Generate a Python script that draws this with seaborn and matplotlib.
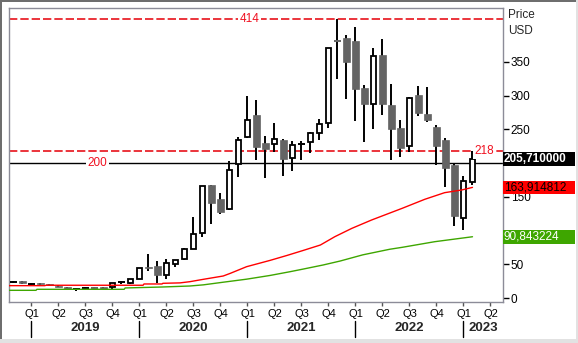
import numpy as np
import pandas as pd
import matplotlib
matplotlib.use("Agg")
import matplotlib.pyplot as plt
import matplotlib.transforms as mtransforms
from matplotlib.patches import Rectangle
import seaborn as sns

# ---- monthly OHLC, Nov 2018 .. Feb 2023 ----
months = pd.period_range("2018-11", "2023-02", freq="M")
open_ = [23.5, 25.0, 21.5, 22.5, 20.5, 18.5, 16.0, 13.5, 15.0, 15.4, 16.0, 16.5, 23.0, 22.0,
         29.0, 45.5, 47.5, 34.2, 50.0, 57.5, 72.5, 96.0, 167.5, 146.0, 131.5, 198.6,
         239.0, 271.3, 229.7, 228.4, 234.0, 208.0, 227.5, 231.7, 244.0, 258.8,
         381.5, 385.2, 380.7, 311.1, 287.9, 360.0, 286.1, 252.0, 225.7, 300.7,
         272.6, 253.8, 234.0, 197.1, 118.2, 172.4]
high = [25.0, 25.5, 23.0, 23.0, 21.0, 19.5, 17.0, 15.0, 17.0, 16.0, 17.0, 23.0, 26.0, 29.0,
        44.5, 66.0, 54.5, 57.9, 56.0, 73.5, 120.0, 166.0, 168.0, 155.6, 203.0, 238.6,
        299.3, 293.4, 240.0, 259.3, 236.0, 232.6, 232.6, 246.0, 265.7, 370.0,
        414.0, 389.2, 401.9, 315.6, 369.9, 383.2, 317.0, 263.7, 298.0, 314.0,
        312.5, 256.3, 237.4, 198.5, 181.3, 218.0]
low = [22.5, 21.5, 19.0, 20.0, 18.5, 16.0, 13.0, 11.0, 13.5, 13.5, 13.0, 14.0, 21.0, 21.5,
       28.5, 40.6, 22.8, 28.7, 46.0, 57.0, 72.0, 91.0, 109.0, 125.0, 130.0, 180.0,
       237.5, 205.0, 178.0, 216.3, 181.0, 188.7, 205.0, 215.3, 234.6, 252.4,
       324.4, 294.4, 262.7, 231.6, 250.9, 271.6, 205.0, 208.3, 216.3, 269.6,
       260.7, 197.1, 164.9, 107.0, 101.3, 167.5]
close = [23.8, 22.0, 21.5, 20.5, 19.0, 16.5, 13.5, 13.6, 15.4, 14.6, 13.5, 22.4, 23.4, 28.3,
         44.0, 44.5, 34.0, 51.5, 55.7, 73.0, 94.5, 165.5, 141.3, 128.0, 189.2, 233.7,
         263.3, 224.3, 221.3, 235.4, 205.6, 226.2, 227.7, 244.0, 257.3, 369.9,
         380.7, 350.1, 309.6, 287.9, 358.5, 287.9, 250.9, 222.7, 296.3, 274.0,
         263.7, 225.7, 193.1, 122.3, 173.0, 205.71]

# ---- moving averages (position in months since Jan 2019) ----
ma_red_month = [-2.5, 1.5, 1.6, 12.4, 12.5, 14.5, 14.6, 16.5, 17.6, 19.1, 21.3, 22.1, 23.9,
                26.5, 28.4, 30.2, 32.1, 33.7, 35.6, 37.8, 41.2, 43.7, 45.9, 47.8, 49.0]
ma_red = [18.4, 18.4, 19.0, 19.0, 20.9, 20.9, 21.9, 22.5, 24.3, 27.8, 32.7, 36.7, 46.5,
          55.8, 63.2, 70.6, 78.6, 90.9, 103.3, 115.7, 133.0, 146.3, 156.1, 160.1, 163.914812]
ma_green_month = [-2.5, 0.5, 0.6, 10.3, 10.4, 14.5, 17.6, 19.1, 21.3, 23.9, 26.5, 28.7,
                  30.2, 32.4, 34.3, 36.8, 39.8, 41.2, 44.8, 49.0]
ma_green = [11.5, 11.5, 13.0, 13.0, 15.0, 16.4, 17.9, 19.6, 23.5, 28.0, 33.5, 39.0,
            43.0, 49.0, 54.9, 64.0, 72.3, 75.2, 83.5, 90.843224]

# ---- reference levels and labels ----
level_high = 414
level_mid = 218
level_round = 200
quarter_labels = ["Q1", "Q2", "Q3", "Q4"]
years = [2019, 2020, 2021, 2022, 2023]
price_ticks = [0, 50, 100, 150, 200, 250, 300, 350]
# labels at 100 and 200 sit under the value boxes
price_tick_labels = ["0", "50", "", "150", "", "250", "300", "350"]

RED = "#ff0000"
GREEN = "#3ea600"
BEAR = "#646464"
FRAME = "#8c8c98"

sns.set_style("white")
plt.rcParams["font.family"] = ["Liberation Sans", "DejaVu Sans"]

W, H = 578, 343
fig = plt.figure(figsize=(W / 100, H / 100), dpi=100)
fig.patch.set_facecolor("white")
ax = fig.add_axes([9 / W, 41 / H, 494 / W, 294 / H])
ax.set_facecolor("white")
ax.set_xlim(-2.5, 52.39)
ax.set_ylim(-5.8, 429.6)

pos = np.array([(m.year - 2019) * 12 + m.month - 1 for m in months])
o = np.array(open_); h = np.array(high); l = np.array(low); c = np.array(close)

# wicks
ax.vlines(pos, l, h, color="black", lw=1.4, zorder=2)
body_w = 0.68
for x, op, cl in zip(pos, o, c):
    if abs(cl - op) < 1.0:
        col = BEAR if cl < op else "black"
        ax.hlines(cl, x - body_w / 2, x + body_w / 2, color=col, lw=1.4, zorder=3)
    elif cl > op:
        ax.bar(x, cl - op, bottom=op, width=body_w - 0.1, facecolor="white",
               edgecolor="black", lw=1.3, zorder=3)
    else:
        ax.bar(x, op - cl, bottom=cl, width=body_w, facecolor=BEAR,
               edgecolor=BEAR, lw=0.5, zorder=3)

# moving averages
sns.lineplot(x=ma_red_month, y=ma_red, ax=ax, color=RED, lw=1.0, sort=False,
             estimator=None, legend=False, zorder=4)
sns.lineplot(x=ma_green_month, y=ma_green, ax=ax, color=GREEN, lw=1.0, sort=False,
             estimator=None, legend=False, zorder=4)

# horizontal levels
dash = (0, (5.0, 1.8))
ax.axhline(level_high, color="#e8121a", lw=1.2, ls=dash, zorder=1)
ax.axhline(level_mid, color="#e8121a", lw=1.2, ls=dash, zorder=1)
ax.axhline(level_round, color="black", lw=1.0, zorder=1)
lab_kw = dict(color="#f01020", fontsize=8.5, ha="center", va="center", zorder=5,
              bbox=dict(facecolor="white", edgecolor="none", pad=1.2))
ax.text(24.2, level_high, str(level_high), **lab_kw)
ax.text(7.36, level_round, str(level_round), **lab_kw)
ax.text(50.3, level_mid, str(level_mid), **lab_kw)

# frame
for s in ax.spines.values():
    s.set_color(FRAME)
    s.set_linewidth(1.0)

# right price axis
ax.yaxis.tick_right()
ax.set_yticks(price_ticks)
ax.set_yticklabels(price_tick_labels)
ax.tick_params(axis="y", which="both", right=True, left=False, length=4, width=1,
               color="black", labelsize=8.5, pad=1.5, labelcolor="black")

# quarter ticks
qpos = np.arange(0, 52, 3)
ax.set_xticks(qpos)
ax.set_xticklabels([quarter_labels[(int(q) // 3) % 4] for q in qpos])
ax.tick_params(axis="x", bottom=True, length=3, width=1, color="#555555",
               labelsize=8, pad=2, labelcolor="black")

# year labels and separators
xtr = ax.get_xaxis_transform()
x_right = ax.get_xlim()[1]
for y in years:
    start = (y - 2019) * 12
    end = min(start + 12, x_right)
    ax.text((start + end) / 2, -0.088, str(y), transform=xtr, ha="center", va="center",
            fontsize=9.5, fontweight="bold", clip_on=False)
    ax.plot([start, start], [-0.066, -0.118], transform=xtr, color="black", lw=1.0,
            clip_on=False)

# value boxes on the price scale
btr = mtransforms.blended_transform_factory(fig.transFigure, ax.transData)
box_h = 13.7 / 0.6753
boxes = [(close[-1], "black", "white", "bold"),
         (ma_red[-1], RED, "black", "normal"),
         (ma_green[-1], GREEN, "white", "normal")]
for val, bg, fg, wt in boxes:
    fig.add_artist(Rectangle((503 / W, val - box_h / 2), 72 / W, box_h, transform=btr,
                             facecolor=bg, edgecolor="none", zorder=10))
    fig.text(504 / W, val, f"{val:.6f}".replace(".", ","), transform=btr, color=fg,
             fontsize=8.5, fontweight=wt, va="center", ha="left", zorder=11)

fig.text(508 / W, 1 - 15.5 / H, "Price", fontsize=8.5, va="center", ha="left")
fig.text(508 / W, 1 - 31.5 / H, "USD", fontsize=8.5, va="center", ha="left")

# window border
fig.add_artist(Rectangle((0, 1 - 2 / H), 1, 2 / H, transform=fig.transFigure,
                         facecolor="#6e6e6e", edgecolor="none", zorder=20))
fig.add_artist(Rectangle((0, 0), 2 / W, 1, transform=fig.transFigure,
                         facecolor="#6e6e6e", edgecolor="none", zorder=20))
fig.add_artist(Rectangle((0, 0), 1, 4.5 / H, transform=fig.transFigure,
                         facecolor="#e2e2e2", edgecolor="none", zorder=20))
fig.add_artist(Rectangle((576 / W, 0), 2 / W, 1, transform=fig.transFigure,
                         facecolor="#e2e2e2", edgecolor="none", zorder=20))

fig.savefig("out.png", dpi=100)
